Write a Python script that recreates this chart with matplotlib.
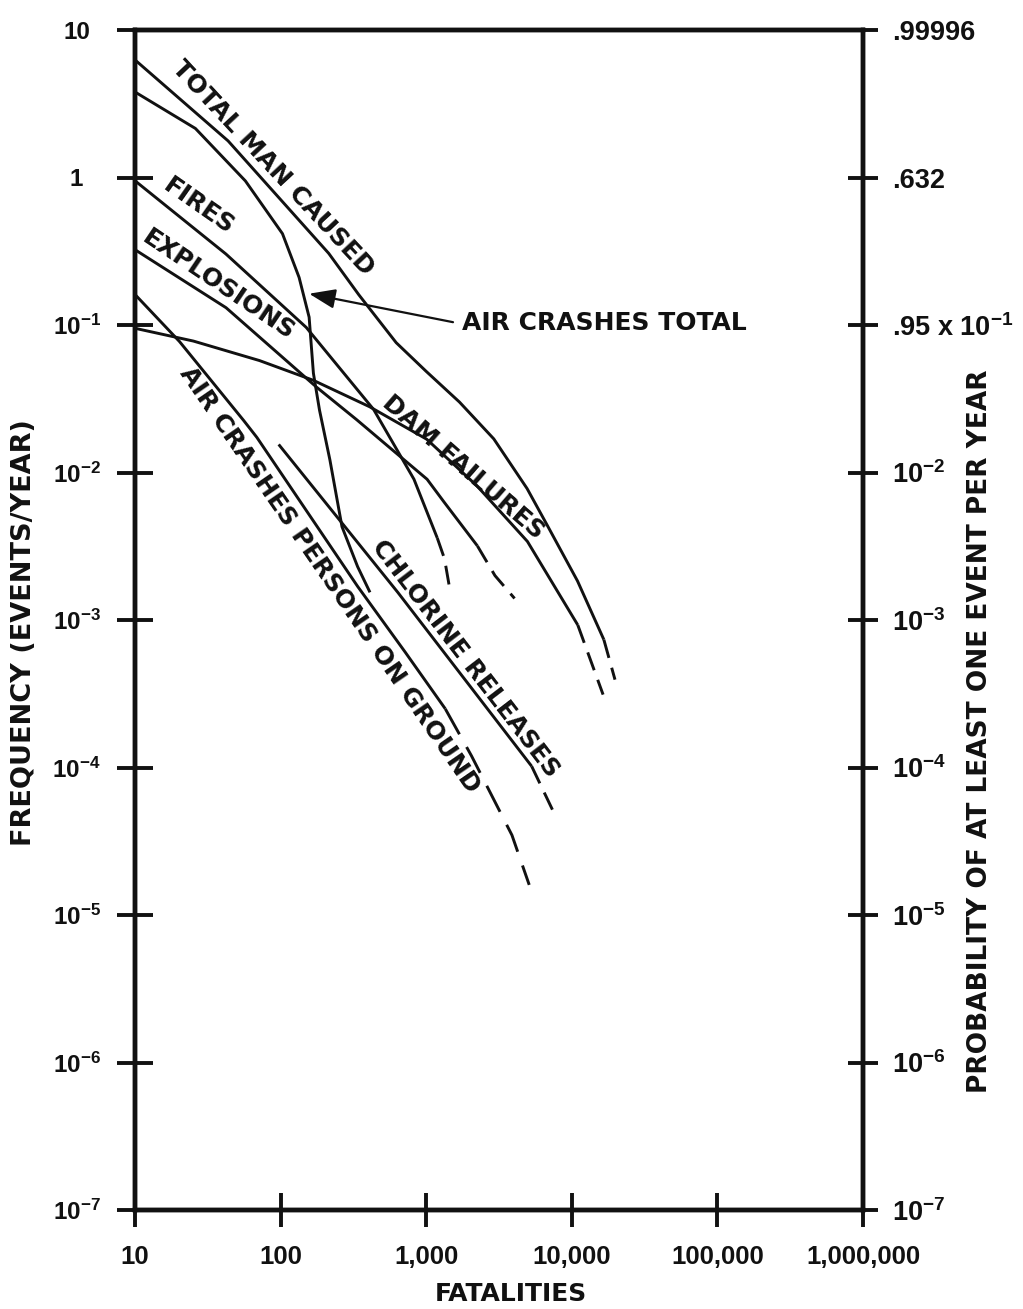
import matplotlib
matplotlib.use("Agg")
import matplotlib.pyplot as plt
from matplotlib.ticker import NullLocator

plt.rcParams['mathtext.default'] = 'regular'

# ---------------- data (fatalities, events/year) ----------------
total_x = [10, 43.6, 214, 345, 622, 1002, 1694, 2912, 4931, 6780, 10940, 16600]
total_y = [6.27, 1.77, 0.306, 0.160, 0.0759, 0.0484, 0.030, 0.0169, 0.00778, 0.00439, 0.00184, 7.36e-4]
total_dx = [16600, 19800]
total_dy = [7.36e-4, 3.94e-4]

aircrash_x = [10, 26.0, 57.3, 103, 134, 157, 168, 185, 218, 264, 338, 411]
aircrash_y = [3.80, 2.15, 0.948, 0.416, 0.210, 0.113, 0.0471, 0.0265, 0.0122, 0.00429, 0.0023, 0.00154]

fires_x = [10, 42.1, 150, 436, 824, 1191]
fires_y = [0.95, 0.303, 0.0963, 0.0267, 0.0090, 0.0036]
fires_dx = [1191, 1336, 1472]
fires_dy = [0.0036, 0.0026, 0.0015]

expl_x = [10, 42.2, 176, 333, 1014, 1327, 2247]
expl_y = [0.324, 0.131, 0.038, 0.0228, 0.0090, 0.0063, 0.00318]
expl_dx = [2247, 2967, 4045]
expl_dy = [0.00318, 0.0020, 0.0014]

dam_x = [10, 25.2, 71.6, 167.5, 409, 1009, 2233, 4955, 10990]
dam_y = [0.095, 0.0778, 0.0574, 0.0422, 0.0279, 0.0168, 0.00811, 0.00341, 9.25e-4]
dam_dx = [10990, 16400]
dam_dy = [9.25e-4, 3.12e-4]

chlor_x = [97, 638, 5300]
chlor_y = [0.0155, 1.54e-3, 1.02e-4]
chlor_dx = [5300, 7530]
chlor_dy = [1.02e-4, 4.94e-5]

ground_x = [10, 20.2, 55.8, 68.7, 338, 716, 1352]
ground_y = [0.161, 0.0773, 0.0225, 0.0173, 0.00169, 6.07e-4, 2.5e-4]
ground_dx = [1352, 2046, 3880, 5100]
ground_dy = [2.5e-4, 1.2e-4, 3.48e-5, 1.6e-5]

x_ticks = [10, 100, 1000, 10000, 100000, 1000000]
x_tick_labels = ['10', '100', '1,000', '10,000', '100,000', '1,000,000']
y_ticks = [10, 1, 1e-1, 1e-2, 1e-3, 1e-4, 1e-5, 1e-6, 1e-7]
y_left_labels = ['10', '1', '10$^{-1}$', '10$^{-2}$', '10$^{-3}$', '10$^{-4}$',
                 '10$^{-5}$', '10$^{-6}$', '10$^{-7}$']
y_right_labels = ['.99996', '.632', '.95 x 10$^{-1}$', '10$^{-2}$', '10$^{-3}$',
                  '10$^{-4}$', '10$^{-5}$', '10$^{-6}$', '10$^{-7}$']

# ---------------- figure ----------------
W, H = 1023, 1309
fig = plt.figure(figsize=(W / 100, H / 100), dpi=100)
L, R, T, B = 135, 863, 30, 1210
ax = fig.add_axes([L / W, 1 - B / H, (R - L) / W, (B - T) / H])
ax.set_xscale('log')
ax.set_yscale('log')
ax.set_xlim(10, 1e6)
ax.set_ylim(1e-7, 10)

K = '#111111'
LW = 2.1
solid = dict(color=K, lw=LW, solid_capstyle='butt', solid_joinstyle='round')
dashed = dict(color=K, lw=LW, linestyle=(0, (6.5, 3.5)), dash_capstyle='butt')

ax.plot(total_x, total_y, **solid)
ax.plot(total_dx, total_dy, **dashed)
ax.plot(aircrash_x, aircrash_y, **solid)
ax.plot(fires_x, fires_y, **solid)
ax.plot(fires_dx, fires_dy, **dashed)
ax.plot(expl_x, expl_y, **solid)
ax.plot(expl_dx, expl_dy, **dashed)
ax.plot(dam_x, dam_y, **solid)
ax.plot(dam_dx, dam_dy, **dashed)
ax.plot(chlor_x, chlor_y, **solid)
ax.plot(chlor_dx, chlor_dy, **dashed)
ax.plot(ground_x, ground_y, **solid)
ax.plot(ground_dx, ground_dy, color=K, lw=LW, linestyle=(0, (10, 5)), dash_capstyle='butt')

# ---------------- curve labels ----------------
lab = dict(family='DejaVu Sans', weight='bold', fontsize=18, color=K,
           ha='center', va='center', rotation_mode='anchor')
ax.text(88.3, 1.16, 'TOTAL MAN CAUSED', rotation=-47, **lab)
ax.text(27.3, 0.64, 'FIRES', rotation=-35, **lab)
ax.text(37.7, 0.186, 'EXPLOSIONS', rotation=-34, **lab)
ax.text(1786, 0.01094, 'DAM FAILURES', rotation=-41, **lab)
ax.text(1862, 5.47e-4, 'CHLORINE RELEASES', rotation=-52.5, **lab)
ax.text(217, 1.87e-3, 'AIR CRASHES PERSONS ON GROUND', rotation=-55.5, **lab)
ax.text(1762, 0.1028, 'AIR CRASHES TOTAL', family='DejaVu Sans', weight='bold',
        fontsize=18, color=K, ha='left', va='center')
ax.annotate('', xy=(157, 0.163), xytext=(1528, 0.1045),
            arrowprops=dict(arrowstyle='-|>,head_length=0.8,head_width=0.3', lw=1.6,
                            color=K, shrinkA=0, shrinkB=0, mutation_scale=20))

# ---------------- axes styling ----------------
for s in ax.spines.values():
    s.set_linewidth(3.2)
    s.set_color(K)

ax.xaxis.set_minor_locator(NullLocator())
ax.yaxis.set_minor_locator(NullLocator())
ax.set_xticks(x_ticks)
ax.set_xticklabels(x_tick_labels, family='Liberation Sans', weight='bold', fontsize=18.5)
ax.set_yticks(y_ticks)
ax.set_yticklabels(y_left_labels, family='Liberation Sans', weight='bold', fontsize=17.5,
                   ha='center')
ax.tick_params(axis='x', direction='inout', length=24, width=2.8, pad=13, colors=K)
ax.tick_params(axis='y', direction='inout', length=26, width=2.8, pad=29, colors=K)
ax.tick_params(top=False, right=False)

ax2 = ax.twinx()
ax2.set_yscale('log')
ax2.set_ylim(1e-7, 10)
ax2.yaxis.set_minor_locator(NullLocator())
ax2.set_yticks(y_ticks)
ax2.set_yticklabels(y_right_labels, family='Liberation Sans', weight='bold', fontsize=19.5)
ax2.tick_params(axis='y', direction='inout', length=21.6, width=2.8, pad=10, colors=K)
for s in ax2.spines.values():
    s.set_linewidth(3.2)
    s.set_color(K)

# ---------------- axis titles ----------------
fig.text(24 / W, 1 - 633 / H, 'FREQUENCY (EVENTS/YEAR)', rotation=90, ha='center', va='center',
         family='DejaVu Sans', weight='bold', fontsize=19.5, color=K)
fig.text(980 / W, 1 - 731 / H, 'PROBABILITY OF AT LEAST ONE EVENT PER YEAR', rotation=90,
         ha='center', va='center', family='DejaVu Sans', weight='bold', fontsize=19, color=K)
fig.text(511 / W, 1 - 1294 / H, 'FATALITIES', ha='center', va='center',
         family='DejaVu Sans', weight='bold', fontsize=18, color=K)

fig.savefig('out.png', dpi=100, facecolor='white')
